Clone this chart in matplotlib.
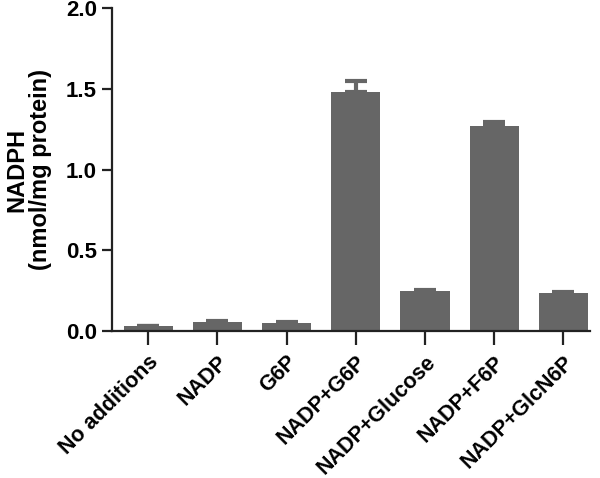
import numpy as np
import matplotlib
matplotlib.use("Agg")
import matplotlib.pyplot as plt

plt.rcParams['font.family'] = ['Liberation Sans', 'DejaVu Sans']
plt.rcParams['font.weight'] = 'bold'

# data
conditions = ['No additions', 'NADP', 'G6P', 'NADP+G6P', 'NADP+Glucose', 'NADP+F6P', 'NADP+GlcN6P']
nadph = [0.03, 0.055, 0.05, 1.48, 0.245, 1.27, 0.235]
errors = [0.003, 0.005, 0.004, 0.07, 0.012, 0.025, 0.008]

fig = plt.figure(figsize=(6, 4.78), dpi=100)
ax = fig.add_axes([0.187, 0.3075, 0.796, 0.6755])

x = np.arange(len(conditions))
ax.bar(x, nadph, width=0.71, color='#666666', zorder=2)
ax.errorbar(x, nadph, yerr=[np.zeros(len(errors)), errors], fmt='none',
            ecolor='#666666', elinewidth=3, capsize=8, capthick=3, zorder=1)

ax.set_xlim(-0.52, 6.38)
ax.set_ylim(0, 2.0)
ax.set_yticks([0, 0.5, 1.0, 1.5, 2.0])
ax.set_yticklabels(['0.0', '0.5', '1.0', '1.5', '2.0'])
ax.set_xticks(x)
ax.set_xticklabels(conditions, rotation=45, ha='right', rotation_mode='anchor')

for s in ['top', 'right']:
    ax.spines[s].set_visible(False)
for s in ['left', 'bottom']:
    ax.spines[s].set_linewidth(1.6)
    ax.spines[s].set_color('#222222')

ax.tick_params(axis='y', length=7, width=1.6, labelsize=16, pad=4, color='#222222')
ax.tick_params(axis='x', length=10, width=1.6, labelsize=15.5, pad=5, color='#222222')

ax.set_ylabel('NADPH\n(nmol/mg protein)', fontsize=17, fontweight='bold', labelpad=10,
              linespacing=1.05)

fig.savefig('out.png', dpi=100)
